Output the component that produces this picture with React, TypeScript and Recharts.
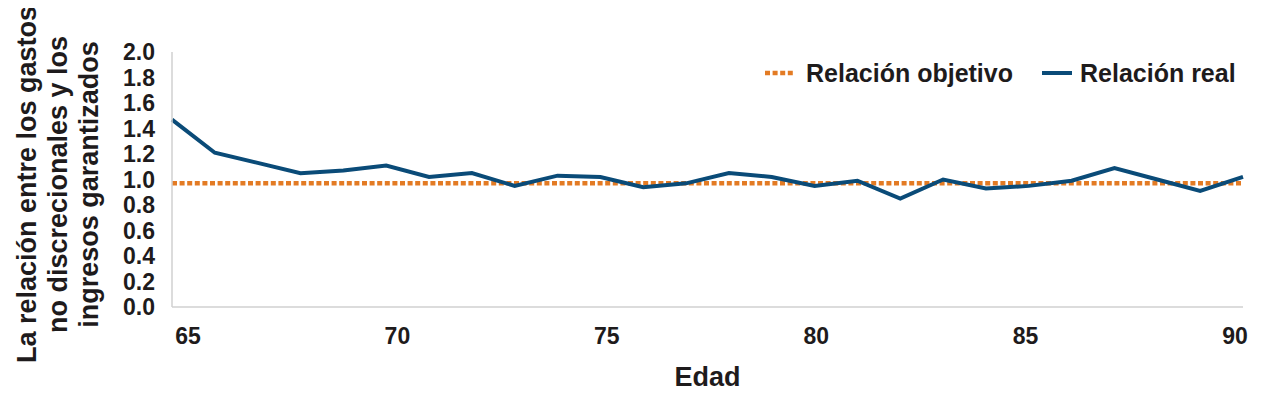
import { LineChart, Line, XAxis, YAxis, Label } from "recharts";

const ages = [65, 66, 67, 68, 69, 70, 71, 72, 73, 74, 75, 76, 77, 78, 79, 80, 81, 82, 83, 84, 85, 86, 87, 88, 89, 90];
const realRatio = [1.47, 1.21, 1.13, 1.05, 1.07, 1.11, 1.02, 1.05, 0.95, 1.03, 1.02, 0.94, 0.97, 1.05, 1.02, 0.95, 0.99, 0.85, 1.0, 0.93, 0.95, 0.99, 1.09, 1.0, 0.91, 1.02];
const targetRatio = [0.97, 0.97, 0.97, 0.97, 0.97, 0.97, 0.97, 0.97, 0.97, 0.97, 0.97, 0.97, 0.97, 0.97, 0.97, 0.97, 0.97, 0.97, 0.97, 0.97, 0.97, 0.97, 0.97, 0.97, 0.97, 0.97];
const xTicks = [65, 70, 75, 80, 85, 90];
const yTicks = [0, 0.2, 0.4, 0.6, 0.8, 1.0, 1.2, 1.4, 1.6, 1.8, 2.0];
const seriesNames = ["Relación objetivo", "Relación real"];
const yTitleLines = ["La relación entre los gastos", "no discrecionales y los", "ingresos garantizados"];
const xTitle = "Edad";

const BLUE = "#0A4B78";
const ORANGE = "#E37B24";
const TEXT = "#1E1B1C";
const AXIS = "#D0D0D0";
const FONT = '"Liberation Sans", Arial, sans-serif';

const data = ages.map((age, i) => ({ age, real: realRatio[i], target: targetRatio[i] }));

function YTitle(props: any) {
  const vb = props.viewBox || { y: 52, height: 255 };
  const cy = vb.y + vb.height / 2 + 5;
  const xs = [27, 58, 89];
  return (
    <g>
      {yTitleLines.map((t, i) => (
        <text
          key={t}
          x={xs[i]}
          y={cy}
          transform={`rotate(-90 ${xs[i]} ${cy})`}
          textAnchor="middle"
          dominantBaseline="central"
          fontFamily={FONT}
          fontWeight="bold"
          fontSize={27}
          fill={TEXT}
        >
          {t}
        </text>
      ))}
    </g>
  );
}

function XTitle(props: any) {
  const vb = props.viewBox || { x: 172, y: 307, width: 1071 };
  return (
    <text
      x={vb.x + vb.width / 2}
      y={vb.y + 70}
      textAnchor="middle"
      dominantBaseline="central"
      fontFamily={FONT}
      fontWeight="bold"
      fontSize={27}
      fill={TEXT}
    >
      {xTitle}
    </text>
  );
}

function LegendBox() {
  const item = (name: string, color: string, dotted: boolean, left: number) => (
    <div style={{ position: "absolute", left, top: 57, display: "flex", alignItems: "center", height: 32 }}>
      <svg width={30} height={8} style={{ marginRight: dotted ? 11 : 8 }}>
        <line
          x1={0}
          y1={4}
          x2={30}
          y2={4}
          stroke={color}
          strokeWidth={dotted ? 4.5 : 4}
          strokeDasharray={dotted ? "5 2.6" : undefined}
        />
      </svg>
      <span style={{ fontFamily: FONT, fontWeight: "bold", fontSize: 25, color: TEXT }}>{name}</span>
    </div>
  );
  return (
    <>
      {item(seriesNames[0], ORANGE, true, 765)}
      {item(seriesNames[1], BLUE, false, 1042)}
    </>
  );
}

export default function App() {
  return (
    <div style={{ position: "relative", width: 1268, height: 397, margin: -8, background: "#fff" }}>
      <LineChart width={1268} height={397} data={data} margin={{ top: 52, right: 25, bottom: 50, left: 112 }}>
        <XAxis xAxisId="pts" dataKey="age" type="number" domain={[65, 90]} hide />
        <XAxis
          xAxisId="lbl"
          dataKey="age"
          type="number"
          domain={[65, 90]}
          ticks={xTicks}
          padding={{ left: 16, right: 8 }}
          height={40}
          axisLine={{ stroke: AXIS, strokeWidth: 1.5 }}
          tickLine={false}
          tickSize={6}
          tickMargin={15}
          tick={{ fontFamily: FONT, fontWeight: "bold", fontSize: 23, fill: TEXT }}
        >
          <Label content={XTitle} />
        </XAxis>
        <YAxis
          domain={[0, 2]}
          ticks={yTicks}
          width={60}
          interval={0}
          axisLine={{ stroke: AXIS, strokeWidth: 1.5 }}
          tickLine={false}
          tickSize={6}
          tickMargin={11}
          tickFormatter={(v: number) => v.toFixed(1)}
          tick={{ fontFamily: FONT, fontWeight: "bold", fontSize: 23, fill: TEXT }}
        >
          <Label content={YTitle} />
        </YAxis>
        <Line
          xAxisId="pts"
          dataKey="target"
          name={seriesNames[0]}
          stroke={ORANGE}
          strokeWidth={4.5}
          strokeDasharray="5 2.6"
          dot={false}
          activeDot={false}
          isAnimationActive={false}
        />
        <Line
          xAxisId="pts"
          dataKey="real"
          name={seriesNames[1]}
          stroke={BLUE}
          strokeWidth={4}
          dot={false}
          activeDot={false}
          isAnimationActive={false}
        />
      </LineChart>
      <LegendBox />
    </div>
  );
}
